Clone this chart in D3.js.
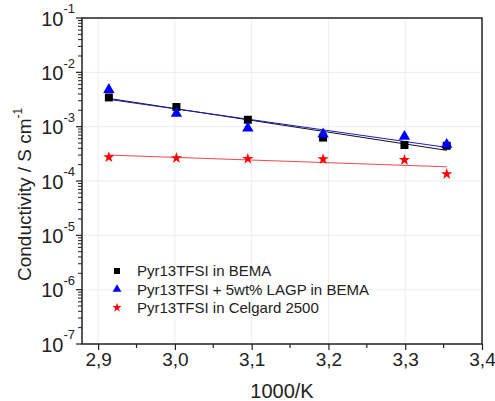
<!DOCTYPE html>
<html>
<head>
<meta charset="utf-8">
<script src="https://cdn.jsdelivr.net/npm/d3@7/dist/d3.min.js"></script>
<style>
  html, body { margin: 0; padding: 0; background: #fff; }
  svg { display: block; }
  text { font-family: "Liberation Sans", Arial, sans-serif; fill: #222; }
</style>
</head>
<body>
<svg id="chart" width="495" height="401"></svg>
<script>
// Inverse temperature (1000/K) for each measurement
const invT = [2.914, 3.002, 3.095, 3.193, 3.299, 3.354];

// Ionic conductivity, S cm^-1
const bema      = [3.45e-3, 2.30e-3, 1.34e-3, 6.3e-4, 4.6e-4, 4.45e-4];
const bemaLagp  = [4.8e-3, 1.75e-3, 9.4e-4, 7.3e-4, 6.6e-4, 4.7e-4];
const celgard   = [2.75e-4, 2.64e-4, 2.56e-4, 2.53e-4, 2.45e-4, 1.34e-4];

const seriesNames = [
  "Pyr13TFSI in BEMA",
  "Pyr13TFSI + 5wt% LAGP in BEMA",
  "Pyr13TFSI in Celgard 2500"
];

const xTicks = [2.9, 3.0, 3.1, 3.2, 3.3, 3.4];
const xTickLabels = ["2,9", "3,0", "3,1", "3,2", "3,3", "3,4"];
const yExponents = [-1, -2, -3, -4, -5, -6, -7];

const svg = d3.select("#chart");
const plotL = 82, plotR = 482, plotT = 18, plotB = 344;

const x = d3.scaleLinear().domain([2.879, 3.4]).range([plotL, plotR]);
const y = d3.scaleLog().domain([1e-7, 1e-1]).range([plotB, plotT]);

// Light grid at major ticks
const grid = svg.append("g").attr("stroke", "#ececec").attr("stroke-width", 1);
grid.selectAll("line.gx").data(xTicks.slice(0, -1)).join("line")
  .attr("x1", d => x(d)).attr("x2", d => x(d))
  .attr("y1", plotT).attr("y2", plotB);
grid.selectAll("line.gy").data(yExponents.slice(1, -1)).join("line")
  .attr("x1", plotL).attr("x2", plotR)
  .attr("y1", d => y(Math.pow(10, d))).attr("y2", d => y(Math.pow(10, d)));

// Least-squares fit of log10(sigma) against 1000/T
function logFit(xs, ys) {
  const ly = ys.map(v => Math.log10(v));
  const mx = d3.mean(xs), my = d3.mean(ly);
  let sxy = 0, sxx = 0;
  xs.forEach((xv, i) => { sxy += (xv - mx) * (ly[i] - my); sxx += (xv - mx) * (xv - mx); });
  const b = sxy / sxx, a = my - b * mx;
  const x0 = d3.min(xs), x1 = d3.max(xs);
  return [[x0, Math.pow(10, a + b * x0)], [x1, Math.pow(10, a + b * x1)]];
}

const series = [
  { name: seriesNames[0], values: bema, color: "#000000", line: "#111111", shape: d3.symbolSquare, size: 64, lsize: 36 },
  { name: seriesNames[1], values: bemaLagp, color: "#0000ff", line: "#1a1acc", shape: d3.symbolTriangle, size: 56, lsize: 34 },
  { name: seriesNames[2], values: celgard, color: "#ff0000", line: "#f04848", shape: d3.symbolStar, size: 40, lsize: 26 }
];

const lineGen = d3.line().x(d => x(d[0])).y(d => y(d[1]));

// Fit lines, drawn beneath the markers
svg.append("g").selectAll("path").data(series).join("path")
  .attr("d", s => lineGen(logFit(invT, s.values)))
  .attr("fill", "none")
  .attr("stroke", s => s.line)
  .attr("stroke-width", 1);

// Data markers
series.forEach(s => {
  svg.append("g").selectAll("path").data(s.values).join("path")
    .attr("transform", (v, i) => `translate(${x(invT[i])},${y(v)})`)
    .attr("d", d3.symbol().type(s.shape).size(s.size))
    .attr("fill", s.color);
});

// Axes
const axisColor = "#222";
const xAxis = d3.axisBottom(x).tickValues(xTicks).tickSize(6).tickFormat((d, i) => xTickLabels[i]);
const gx = svg.append("g").attr("transform", `translate(0,${plotB})`).call(xAxis);
gx.select(".domain").remove();
gx.selectAll(".tick line").attr("stroke", axisColor).attr("stroke-width", 1.2);
gx.selectAll(".tick text").attr("font-size", 19)
  .attr("font-family", "Liberation Sans, Arial, sans-serif").attr("fill", "#222");

// Minor x ticks
const xMinor = d3.range(2.95, 3.4, 0.1);
svg.append("g").selectAll("line").data(xMinor).join("line")
  .attr("x1", d => x(d)).attr("x2", d => x(d))
  .attr("y1", plotB).attr("y2", plotB + 4)
  .attr("stroke", axisColor).attr("stroke-width", 1.2);

// Y axis: major decades plus minor log ticks
const yMajor = yExponents.map(e => Math.pow(10, e));
const yMinor = [];
for (let e = -7; e < -1; e++) for (let m = 2; m <= 9; m++) yMinor.push(m * Math.pow(10, e));

const gy = svg.append("g");
gy.selectAll("line.maj").data(yMajor).join("line")
  .attr("x1", plotL - 6).attr("x2", plotL)
  .attr("y1", d => y(d)).attr("y2", d => y(d))
  .attr("stroke", axisColor).attr("stroke-width", 1.2);
gy.selectAll("line.min").data(yMinor).join("line")
  .attr("x1", plotL - 4).attr("x2", plotL)
  .attr("y1", d => y(d)).attr("y2", d => y(d))
  .attr("stroke", axisColor).attr("stroke-width", 1);

const yLab = gy.selectAll("text").data(yExponents).join("text")
  .attr("x", plotL - 7)
  .attr("y", e => y(Math.pow(10, e)))
  .attr("text-anchor", "end");
yLab.append("tspan").attr("font-size", 20).attr("dy", "0.38em").text("10");
yLab.append("tspan").attr("font-size", 13).attr("dy", "-0.95em").text(e => e);

// Plot frame
svg.append("rect")
  .attr("x", plotL).attr("y", plotT)
  .attr("width", plotR - plotL).attr("height", plotB - plotT)
  .attr("fill", "none").attr("stroke", axisColor).attr("stroke-width", 1.5);

// Axis titles
svg.append("text")
  .attr("x", (plotL + plotR) / 2).attr("y", 398)
  .attr("text-anchor", "middle").attr("font-size", 20)
  .text("1000/K");

const yt = svg.append("text")
  .attr("transform", "translate(31,281) rotate(-90)")
  .attr("text-anchor", "start").attr("font-size", 19);
yt.append("tspan").text("Conductivity / S cm");
yt.append("tspan").attr("font-size", 12).attr("dy", "-0.75em").text("-1");

// Legend
const legend = svg.append("g");
series.forEach((s, i) => {
  const ly = 271 + i * 18.3;
  legend.append("path")
    .attr("transform", `translate(117,${ly})`)
    .attr("d", d3.symbol().type(s.shape).size(s.lsize))
    .attr("fill", s.color);
  legend.append("text")
    .attr("x", 137).attr("y", ly).attr("dy", "0.36em")
    .attr("font-size", 15)
    .text(s.name);
});
</script>
</body>
</html>
